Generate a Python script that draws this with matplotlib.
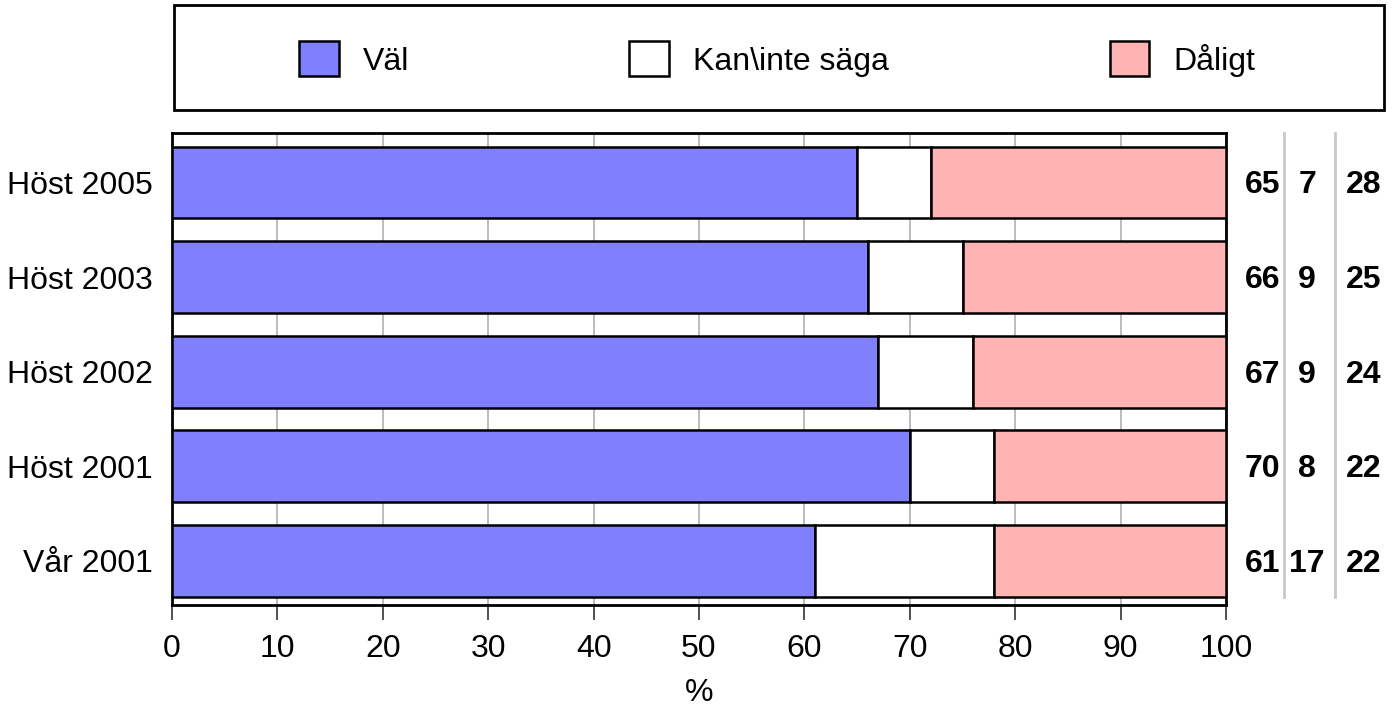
import matplotlib.pyplot as plt
from matplotlib.patches import Rectangle, Patch
from matplotlib.lines import Line2D

plt.rcParams['font.family'] = ['Liberation Sans', 'DejaVu Sans']

# data
periods = ['Höst 2005', 'Höst 2003', 'Höst 2002', 'Höst 2001', 'Vår 2001']
val = [65, 66, 67, 70, 61]
kan = [7, 9, 9, 8, 17]
daligt = [28, 25, 24, 22, 22]
series_names = ['Väl', 'Kan\\inte säga', 'Dåligt']
colors = ['#8080FF', '#FFFFFF', '#FFB3B3']

fs = 23

fig = plt.figure(figsize=(14, 7.08), dpi=100)
ax = fig.add_axes([172 / 1400, 1 - 605 / 708, 1054 / 1400, 472 / 708])

# top category first
y = list(range(len(periods)))[::-1]
left = [0] * len(periods)
for vals, col in zip([val, kan, daligt], colors):
    ax.barh(y, vals, left=left, height=0.76, color=col,
            edgecolor='black', linewidth=1.8, zorder=3)
    left = [l + v for l, v in zip(left, vals)]

ax.set_xlim(0, 100)
ax.set_ylim(-0.465, len(periods) - 1 + 0.523)
ax.set_xticks(range(0, 101, 10))
ax.set_yticks(y)
ax.set_yticklabels(periods)
ax.tick_params(axis='x', labelsize=fs, length=11, width=1.2, color='#333333', pad=10)
ax.tick_params(axis='y', labelsize=fs, length=0, pad=14)
ax.grid(axis='x', color='#b0b0b0', linewidth=1.2, zorder=0)
for sp in ax.spines.values():
    sp.set_linewidth(2)
ax.set_xlabel('%', fontsize=fs, labelpad=10)

# numbers at the right side
tr = ax.get_yaxis_transform()
for yi, a, b, c in zip(y, val, kan, daligt):
    ax.text(1.035, yi - 0.03, str(a), transform=tr, ha='center', va='center',
            fontsize=fs, fontweight='bold', clip_on=False)
    ax.text(1.077, yi - 0.03, str(b), transform=tr, ha='center', va='center',
            fontsize=fs, fontweight='bold', clip_on=False)
    ax.text(1.131, yi - 0.03, str(c), transform=tr, ha='center', va='center',
            fontsize=fs, fontweight='bold', clip_on=False)
for xs in [1284, 1335]:
    fig.add_artist(Line2D([xs / 1400, xs / 1400], [1 - 133 / 708, 1 - 597 / 708],
                          color='#c8c8c8', linewidth=2))

# legend box
fig.add_artist(Rectangle((174 / 1400, 1 - 110 / 708), 1210 / 1400, 105 / 708,
                         facecolor='none', edgecolor='black', linewidth=2,
                         transform=fig.transFigure))
handles = [Patch(facecolor=c, edgecolor='black', linewidth=1.8) for c in colors]
fig.legend(handles, series_names, loc='center', bbox_to_anchor=(777 / 1400, 1 - 59 / 708),
           ncol=3, frameon=False, fontsize=fs, handlelength=1.25, handleheight=1.3,
           handletextpad=0.75, columnspacing=6.9)

fig.savefig('out.png', dpi=100)
